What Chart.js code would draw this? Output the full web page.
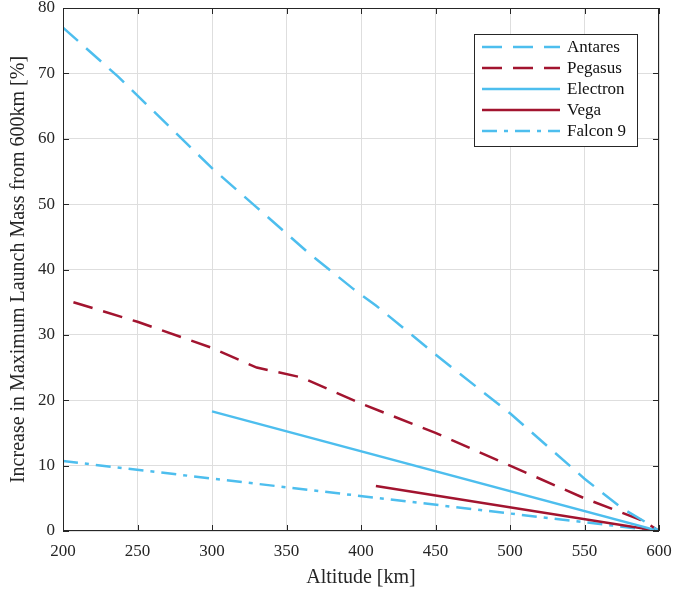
<!DOCTYPE html>
<html>
<head>
<meta charset="utf-8">
<script src="https://cdn.jsdelivr.net/npm/chart.js@4.4.1/dist/chart.umd.min.js"></script>
<style>
  html, body { margin: 0; padding: 0; background: #fff; }
</style>
</head>
<body>
<canvas id="launch-chart" width="674" height="594"></canvas>
<script>
// altitude [km] and mass increase [%]
const antaresAlt  = [200, 237, 300, 330, 365, 395, 410, 450, 500, 525, 550, 575, 590, 600];
const antaresMass = [77, 69.5, 55.5, 49.5, 42.5, 37, 34.5, 27, 18, 13, 8, 3.5, 1.5, 0];

const pegasusAlt  = [207, 250, 300, 330, 360, 400, 450, 500, 550, 590, 600];
const pegasusMass = [35, 32, 28, 25, 23.5, 19.5, 15, 10, 5, 1.5, 0];

const electronAlt  = [300, 600];
const electronMass = [18.3, 0];

const vegaAlt  = [410, 600];
const vegaMass = [6.9, 0];

const falconAlt  = [200, 600];
const falconMass = [10.7, 0];

const xTicks = [200, 250, 300, 350, 400, 450, 500, 550, 600];
const yTicks = [0, 10, 20, 30, 40, 50, 60, 70, 80];

const BLUE = "#4DBEEE";
const RED = "#A2142F";
const FONT = "'Liberation Serif', serif";

function pts(xs, ys) {
  return xs.map((x, i) => ({ x: x, y: ys[i] }));
}

// box, inward ticks and a legend inside the axes (matlab style)
const framePlugin = {
  id: "frame",
  afterDraw(chart) {
    const ctx = chart.ctx;
    const a = chart.chartArea;
    const xs = chart.scales.x, ys = chart.scales.y;
    ctx.save();
    ctx.strokeStyle = "#262626";
    ctx.lineWidth = 1;
    ctx.strokeRect(a.left + 0.5, a.top + 0.5, a.right - a.left - 1, a.bottom - a.top - 1);
    ctx.beginPath();
    xTicks.forEach(v => {
      const px = Math.round(xs.getPixelForValue(v)) + 0.5;
      ctx.moveTo(px, a.bottom); ctx.lineTo(px, a.bottom - 6);
      ctx.moveTo(px, a.top); ctx.lineTo(px, a.top + 6);
    });
    yTicks.forEach(v => {
      const py = Math.round(ys.getPixelForValue(v)) + 0.5;
      ctx.moveTo(a.left, py); ctx.lineTo(a.left + 6, py);
      ctx.moveTo(a.right, py); ctx.lineTo(a.right - 6, py);
    });
    ctx.stroke();

    // legend
    const lx = 474, ly = 34, lw = 163, lh = 112;
    ctx.fillStyle = "#fff";
    ctx.fillRect(lx, ly, lw, lh);
    ctx.strokeStyle = "#262626";
    ctx.strokeRect(lx + 0.5, ly + 0.5, lw, lh);
    ctx.font = "17px " + FONT;
    ctx.textBaseline = "middle";
    chart.data.datasets.forEach((ds, i) => {
      const cy = ly + 13 + i * 21;
      ctx.beginPath();
      ctx.strokeStyle = ds.borderColor;
      ctx.lineWidth = ds.borderWidth;
      ctx.setLineDash(ds.borderDash || []);
      ctx.moveTo(lx + 8, cy);
      ctx.lineTo(lx + 86, cy);
      ctx.stroke();
      ctx.setLineDash([]);
      ctx.fillStyle = "#111";
      ctx.fillText(ds.label, lx + 93, cy + 1);
    });
    ctx.restore();
  }
};

new Chart(document.getElementById("launch-chart").getContext("2d"), {
  type: "line",
  data: {
    datasets: [
      { label: "Antares", data: pts(antaresAlt, antaresMass), borderColor: BLUE, borderDash: [20, 11] },
      { label: "Pegasus", data: pts(pegasusAlt, pegasusMass), borderColor: RED, borderDash: [20, 11] },
      { label: "Electron", data: pts(electronAlt, electronMass), borderColor: BLUE },
      { label: "Vega", data: pts(vegaAlt, vegaMass), borderColor: RED },
      { label: "Falcon 9", data: pts(falconAlt, falconMass), borderColor: BLUE, borderDash: [15, 7, 4, 7] }
    ].map(d => Object.assign({ borderWidth: 2.5, pointRadius: 0, tension: 0, fill: false }, d))
  },
  options: {
    responsive: false,
    animation: false,
    layout: { padding: { top: 8, right: 15, left: 0, bottom: 0 } },
    plugins: { legend: { display: false }, tooltip: { enabled: false } },
    scales: {
      x: {
        type: "linear",
        min: 200, max: 600,
        afterFit: s => { s.height = 63; s.paddingLeft = 0; s.paddingRight = 0; },
        afterBuildTicks: s => { s.ticks = xTicks.map(v => ({ value: v })); },
        grid: { color: "#dedede", drawTicks: false },
        border: { display: false },
        ticks: { color: "#262626", font: { family: FONT, size: 17 }, padding: 10 },
        title: { display: true, text: "Altitude [km]", color: "#262626", font: { family: FONT, size: 20 }, padding: { top: 3 } }
      },
      y: {
        min: 0, max: 80,
        afterFit: s => { s.width = 63; s.paddingTop = 0; s.paddingBottom = 0; },
        afterBuildTicks: s => { s.ticks = yTicks.map(v => ({ value: v })); },
        grid: { color: "#dedede", drawTicks: false },
        border: { display: false },
        ticks: { color: "#262626", font: { family: FONT, size: 17 }, padding: 8 },
        title: { display: true, text: "Increase in Maximum Launch Mass from 600km [%]", color: "#262626", font: { family: FONT, size: 20 }, padding: { top: 7, bottom: 4 } }
      }
    }
  },
  plugins: [framePlugin]
});
</script>
</body>
</html>
